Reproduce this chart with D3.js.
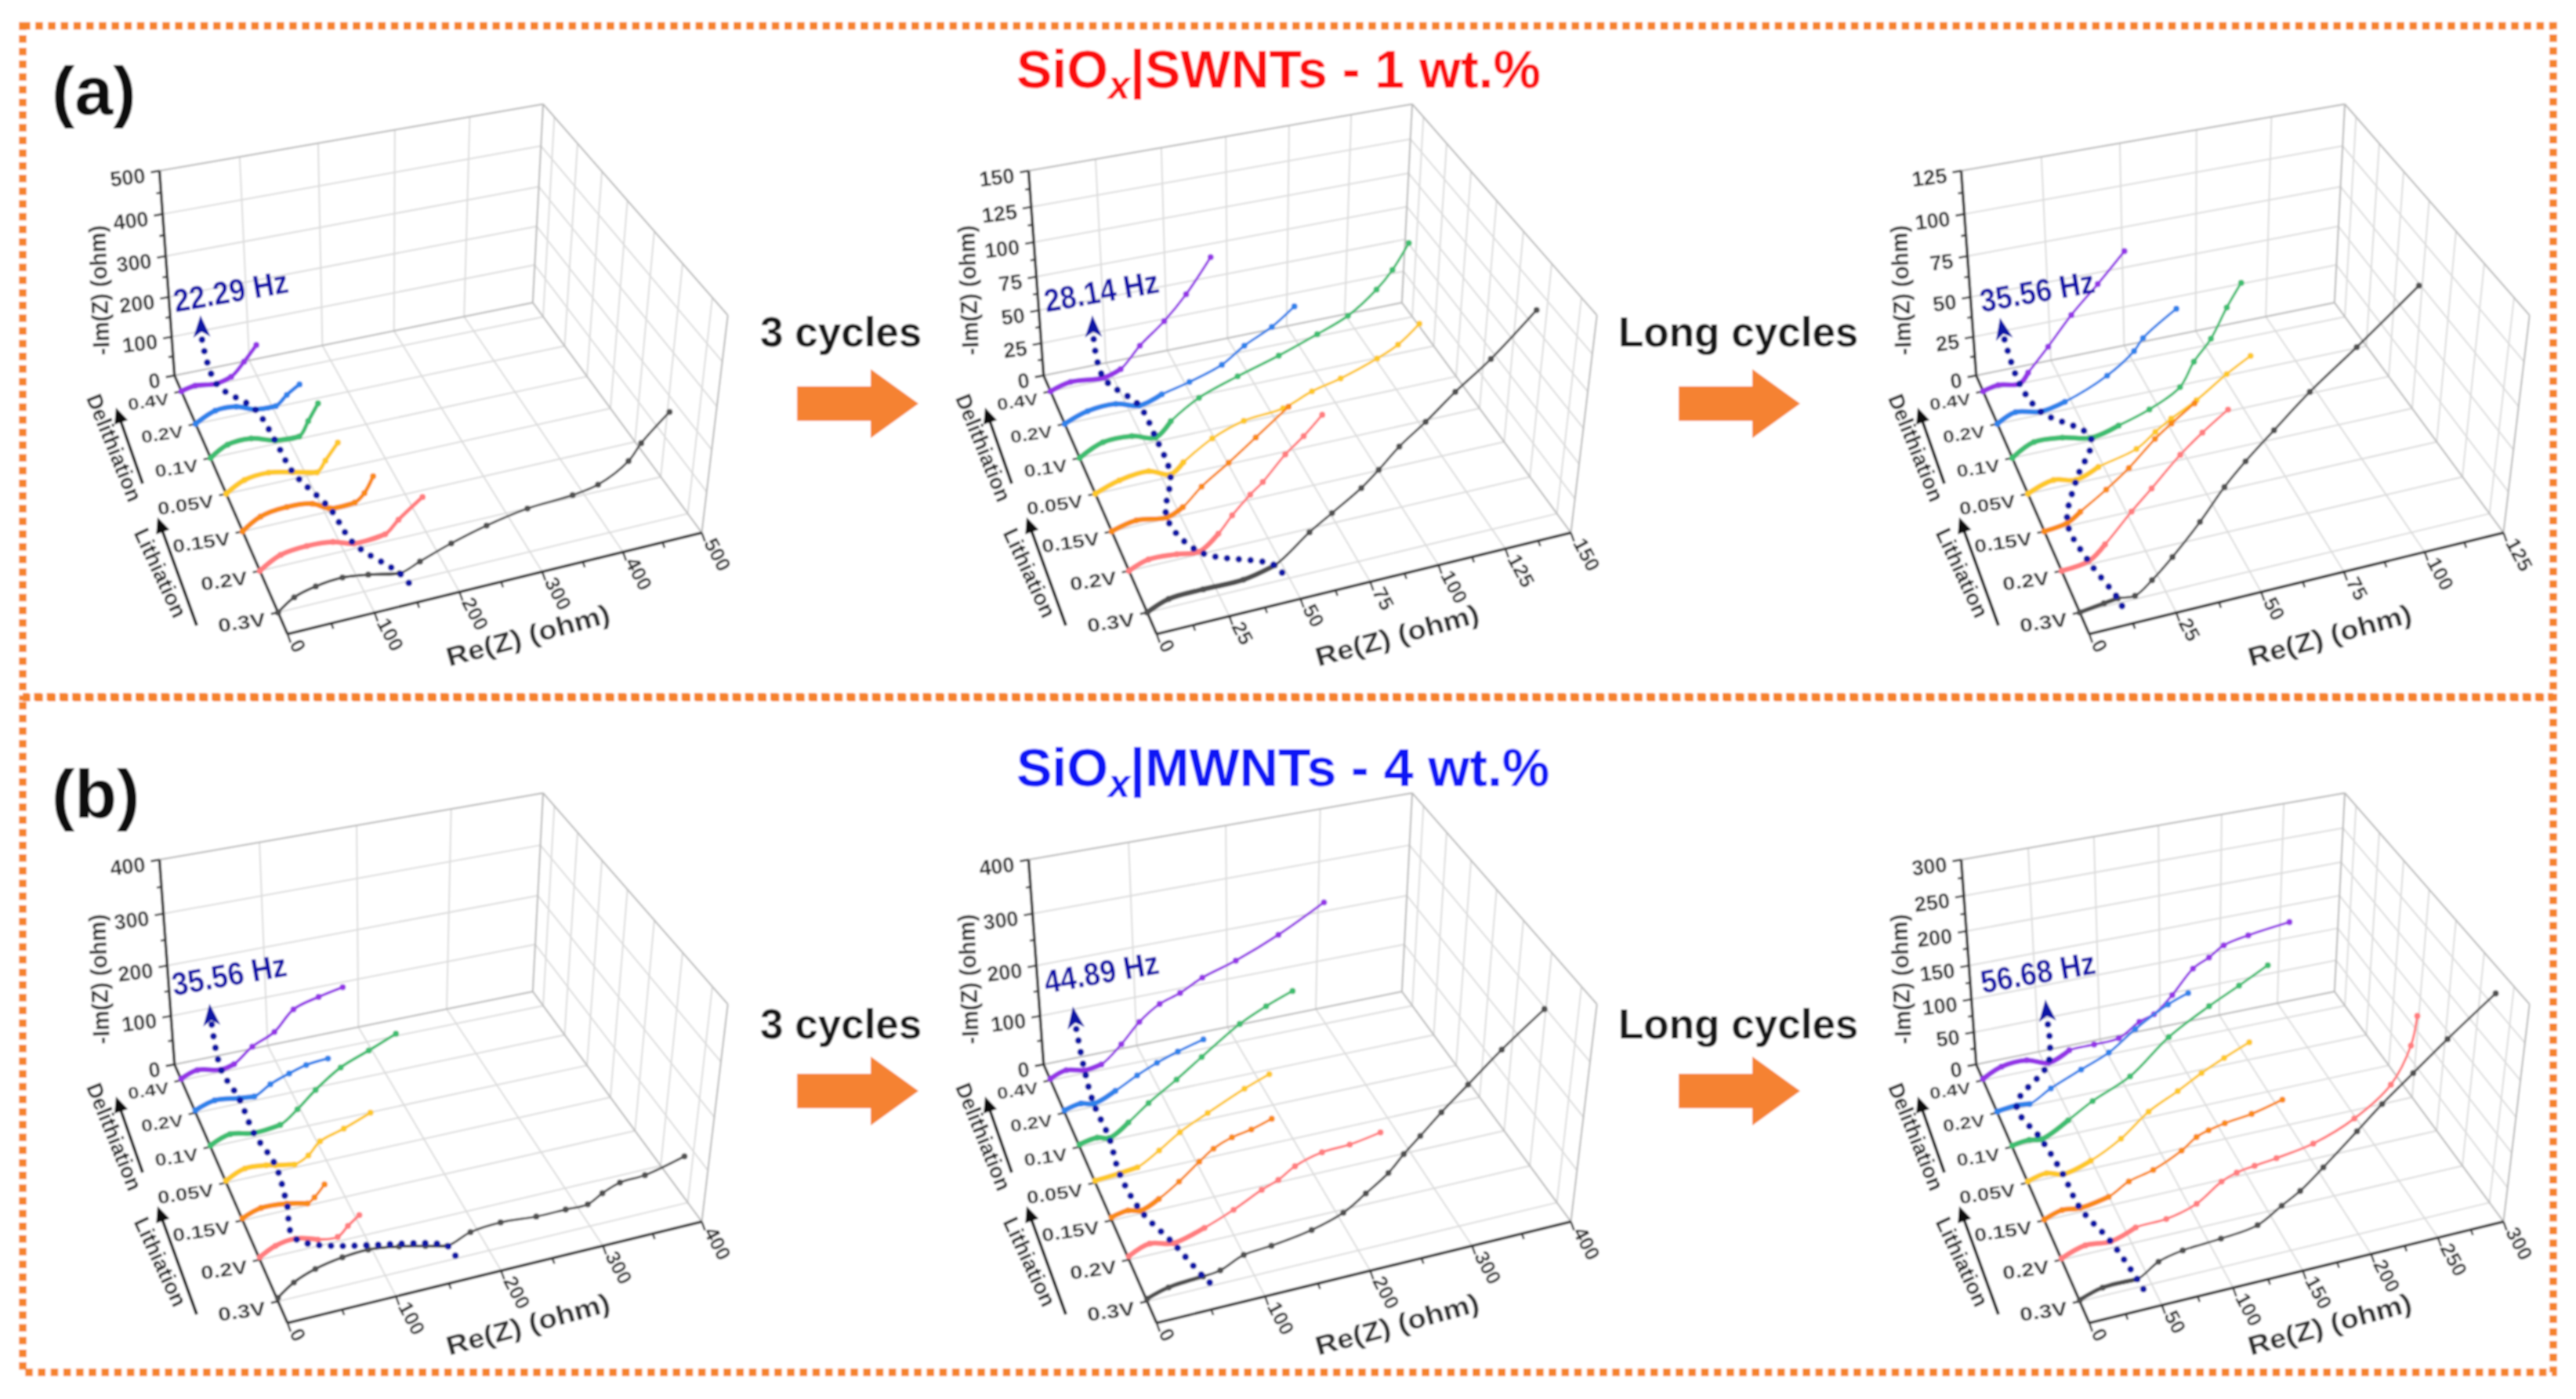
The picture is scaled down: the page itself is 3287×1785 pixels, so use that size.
<!DOCTYPE html>
<html><head><meta charset="utf-8"><style>html,body{margin:0;background:#fff}svg{display:block}text{font-family:"Liberation Sans",Arial,sans-serif}</style>
<script src="https://cdn.jsdelivr.net/npm/d3@7"></script></head><body><svg id="c" width="3287" height="1785"></svg>
<script>
// ---------- data (curve order: 0.3V front ... 0.4V back) ----------
const depthLabels=['0.3V','0.2V','0.15V','0.05V','0.1V','0.2V','0.4V'];
const seriesColors=['#4f4f4f','#ff7d7f','#f98a14','#fdc828','#3cbd70','#2f82ea','#9434e6'];
const a1Re=[[0,19,44,75,105,142,166,203,245,294,349,380,416,430,462],[0,25,56,87,112,150,166,195],[0,22,54,85,106,137,149,160],[0,23,53,83,113,124,140],[0,22,52,82,113,125,138],[0,26,53,77,104,119,136],[0,18,46,66,84,101]];
const a1Im=[[0,27,41,47,39,24,41,67,90,108,115,126,166,202,261],[0,27,34,29,13,18,46,88],[0,26,35,29,8,8,26,63],[0,24,29,17,3,28,66],[0,24,27,9,6,40,79],[0,23,22,5,2,25,45],[0,7,1,11,43,79]];
const a1Mark=[5,4,4,3,3,3,2], a1Top=[[31,120],[31,181]], a1Tail=[157,-17];
const a2Re=[[0,7.5,19.5,33.6,44.7,56.9,64.8,75,81,88,97,107,119,134],[0,7,17,25,32,37,43.5,48,56,62.5,69],[0,9,20,26,33,43,53,65],[0,9,20,28,33,44,56,71,82,93,107,115,123],[0,9,20,29,35,46,61,77,92,104,115,121,127],[0,9,20,29,38,49,62,71,82,91],[0,8,21,28,36,46,55,65]];
const a2Im=[[0,6,7,7,12,30,40,53,63,76,89,105,122,148],[0,5,4,2,12,23,35,42,58,68,80],[0,4,1,6,18,31,45,62],[0,6,8,2,9,22,30,33,41,46,55,62,74],[0,8,8,3,13,26,36,45,55,64,79,91,108],[0,6,7,2,7,12,20,31,41,53],[0,4,2,6,21,36,53,77]];
const a2Mark=[4,3,2,3,3,3,2], a2Top=[[18,33],[18,51]], a2Tail=[49,-1];
const a3Re=[[0,7,11,16,21,27,35,42,48,56,66,79,96],[0,8,13,21,27,35.5,42,49.5],[0,7,11,19,26,34,39,46],[0,8,15,22,34,40,45,53,62.5,70],[0,7,16,25,34,44,54,58.5,64,69,73.5],[0,6,14,22,36,45,48,59],[0,5,12,15,22,30,39,48]];
const a3Im=[[0,2,3,2,9,20,37,54,66,80,97,116,142],[0,2,10,26,37,53,63,73],[0,2,7,17,27,41,48,57],[0,5,2,7,13,21,27,35,47,55],[0,7,6,2,6,12,22,36,48,65,78],[0,5,2,5,16,28,35,49],[0,2,0,6,20,37,53,70]];
const a3Mark=[2,1,1,2,3,2,2], a3Top=[[8,30],[7,44]], a3Tail=[12.5,-4];
const b1Re=[[0,15,35,60,84,113,138,159,181,210,245,274,296,310,327,352,391],[0,15,34,55,74,84,95],[0,18,43,63,70,80],[0,19,40,49,68,82,94,118,145],[0,20,44,71,89,108,134,163,191],[0,20,45,61,78,98,116,139],[0,17,42,56,76,100,121,148,174]];
const b1Im=[[7,29,45,55,58,50,39,29,45,50,45,45,45,60,73,76,95],[5,20,25,13,9,26,42],[4,16,13,4,13,34],[4,20,17,13,6,18,41,56,76],[3,17,9,14,38,69,103,125,147],[5,17,11,8,26,40,50,54],[3,14,5,11,39,60,98,113,123]];
const b1Mark=[7,2,2,3,2,2,2], b1Top=[[35,100],[34,142]], b1Tail=[167,6];
const b2Re=[[0,20,52,68,90,116,154,184,205,226,240,255,274,298,328,366],[0,20,42,72,100,127,143,159,185,212,242],[0,16,28,46,66,86,100,118,137,157],[0,24,42,64,85,113,150,175],[0,18,30,50,71,100,126,165,192,219],[0,17,30,53,76,97,119,146],[0,17,36,54,76,96,118,140,164,200,246,295]];
const b2Im=[[5,17,22,26,45,50,62,81,108,137,166,193,228,268,318,374],[7,22,12,28,50,76,88,107,122,125,135],[6,12,6,21,46,76,95,109,116,128],[4,8,12,36,63,89,121,139],[5,11,5,28,58,93,127,176,200,219],[5,12,6,23,45,62,76,90],[3,14,6,11,44,82,110,124,146,167,202,249]];
const b2Mark=[2,2,2,1,2,2,2], b2Top=[[30,93],[28,139]], b2Tail=[62,-2];
const b3Re=[[0,16,40,55,72,99,125,142,155,171,194,211,232,255,287],[0,17,35,53,75,97,115,126,139,155,182,212,238,251,254],[0,13,26,47,62,80,101,112,121,133,153,176],[0,14,26,47,70,91,113,131,148,167],[0,13,22,43,62,91,121,152,175,197],[0,15,25,42,66,88,109,135,151],[0,15,35,52,69,89,109,126,138,153,170,183,195,215,249]];
const b3Im=[[2,12,12,30,38,42,49,69,84,110,150,180,213,249,296],[2,13,10,22,24,36,60,68,72,76,85,108,145,194,233],[1,9,6,13,29,38,57,72,78,83,88,99],[2,8,1,12,35,66,87,106,121,136],[2,5,2,22,43,68,114,147,168,189],[2,5,3,20,39,56,83,110,121],[2,15,17,6,19,20,22,41,48,72,106,118,132,140,148]];
const b3Mark=[2,2,2,2,2,1,3], b3Top=[[53,65],[52,103]], b3Tail=[45,-8];
const reTicks={a1:[0,100,200,300,400,500],a2:[0,25,50,75,100,125,150],a3:[0,25,50,75,100,125],b1:[0,100,200,300,400],b2:[0,100,200,300,400],b3:[0,50,100,150,200,250,300]};
const imTicks=reTicks;
const freqLabels=['22.29 Hz','28.14 Hz','35.56 Hz','35.56 Hz','44.89 Hz','56.68 Hz'];

// ---------- layout ----------
const panels=[
 {id:'a1',re:a1Re,im:a1Im,mark:a1Mark,top:a1Top,tail:a1Tail,dx:0,dy:0,lab:[295,375],tailW:5,blackW:3.4},
 {id:'a2',re:a2Re,im:a2Im,mark:a2Mark,top:a2Top,tail:a2Tail,dx:1109,dy:0,lab:[297,375],tailW:3.2,blackW:6.5},
 {id:'a3',re:a3Re,im:a3Im,mark:a3Mark,top:a3Top,tail:a3Tail,dx:2299,dy:0,lab:[301,375],tailW:3.2,blackW:5.5},
 {id:'b1',re:b1Re,im:b1Im,mark:b1Mark,top:b1Top,tail:b1Tail,dx:0,dy:879,lab:[293,368],tailW:3.6,blackW:3.4},
 {id:'b2',re:b2Re,im:b2Im,mark:b2Mark,top:b2Top,tail:b2Tail,dx:1109,dy:879,lab:[297,365],tailW:3.2,blackW:5.5},
 {id:'b3',re:b3Re,im:b3Im,mark:b3Mark,top:b3Top,tail:b3Tail,dx:2299,dy:879,lab:[302,365],tailW:3.2,blackW:5.5}];
// visible cube corners on screen: [u,v,w] -> [X,Y], fitted to one projective camera
const cube=[[0,0,0,367,809],[1,0,0,896,680],[0,1,0,223,479],[1,1,0,679,386],[0,1,1,203,218],[1,1,1,694,133],[1,0,1,928,402]];
function fitCamera(pts){
  const rows=[],rhs=[];
  pts.forEach(([u,v,w,X,Y])=>{
    rows.push([u,v,w,1,0,0,0,0,-X*u,-X*v,-X*w]);rhs.push(X);
    rows.push([0,0,0,0,u,v,w,1,-Y*u,-Y*v,-Y*w]);rhs.push(Y);});
  const n=11,M=d3.range(n).map(i=>d3.range(n+1).map(j=>j<n?d3.sum(rows,(r)=>r[i]*r[j]):d3.sum(rows,(r,k)=>r[i]*rhs[k])));
  for(let i=0;i<n;i++){let p=i;for(let r=i+1;r<n;r++)if(Math.abs(M[r][i])>Math.abs(M[p][i]))p=r;[M[i],M[p]]=[M[p],M[i]];
    for(let r=0;r<n;r++)if(r!==i){const f=M[r][i]/M[i][i];for(let c=i;c<=n;c++)M[r][c]-=f*M[i][c];}}
  return M.map((r,i)=>r[n]/r[i]);
}
const cam=fitCamera(cube);
function project(u,v,w){const d=cam[8]*u+cam[9]*v+cam[10]*w+1;
  return [(cam[0]*u+cam[1]*v+cam[2]*w+cam[3])/d,(cam[4]*u+cam[5]*v+cam[6]*w+cam[7])/d];}

const svg=d3.select('#c');
const defs=svg.append('defs');
defs.append('filter').attr('id','soft').attr('x','-2%').attr('y','-2%').attr('width','104%').attr('height','104%').append('feGaussianBlur').attr('stdDeviation',1.3);
const root=svg.append('g').attr('filter','url(#soft)');
root.append('rect').attr('width',3287).attr('height',1785).attr('fill','#fff');

// dotted frames
[[29,33,3229,856],[29,890,3229,861]].forEach(([x,y,w,h])=>root.append('rect').attr('x',x).attr('y',y).attr('width',w).attr('height',h)
  .attr('fill','none').attr('stroke','#f5822a').attr('stroke-width',9.5).attr('stroke-dasharray','9.5 6.7'));

// titles
function title(y,txt,col,x0){const t=root.append('text').attr('x',x0).attr('y',y).attr('fill',col).attr('font-size',68).attr('font-weight',700);
  t.append('tspan').text('SiO');t.append('tspan').attr('dy',14).attr('font-size',50).attr('font-style','italic').text('x');t.append('tspan').attr('dy',-14).text(txt);}
title(112,'|SWNTs - 1 wt.%','#fa0a0a',1297);title(1003,'|MWNTs - 4 wt.%','#0a14f5',1297);
root.append('text').attr('x',66).attr('y',146).attr('font-size',88).attr('font-weight',700).attr('fill','#111').text('(a)');
root.append('text').attr('x',66).attr('y',1043).attr('font-size',88).attr('font-weight',700).attr('fill','#111').text('(b)');

// between-plot captions and arrows
[[0,0,'3 cycles',970,1017],[0,0,'Long cycles',2065,2142],[883,877,'3 cycles',970,1017],[883,877,'Long cycles',2065,2142]].forEach(([dy,da,t,tx,ax])=>{
  root.append('text').attr('x',tx).attr('y',442+dy).attr('font-size',53).attr('font-weight',700).attr('fill','#141414').text(t);
  const a=d3.path();const y=515+da;a.moveTo(ax,y-22);a.lineTo(ax+94,y-22);a.lineTo(ax+94,y-44);a.lineTo(ax+155,y);a.lineTo(ax+94,y+44);a.lineTo(ax+94,y+22);a.lineTo(ax,y+22);a.closePath();
  root.append('path').attr('d',a.toString()).attr('fill','#f58233');
});

const line=d3.line().x(d=>d[0]).y(d=>d[1]).curve(d3.curveCatmullRom.alpha(0.5));
const depth=d3.scaleLinear().domain([-0.5,6.5]).range([0,1]);

panels.forEach((p,pi)=>{
  const R=reTicks[p.id],I=imTicks[p.id],reMax=d3.max(R),imMax=d3.max(I);
  const xS=d3.scaleLinear().domain([0,reMax]).range([0,1]);
  const zS=d3.scaleLinear().domain([0,imMax]).range([0,1]);
  const P=(re,k,im)=>project(xS(re),depth(k),zS(im));
  const g=root.append('g').attr('transform',`translate(${p.dx},${p.dy})`);
  const seg=(a,b,col,w)=>g.append('line').attr('x1',a[0]).attr('y1',a[1]).attr('x2',b[0]).attr('y2',b[1]).attr('stroke',col).attr('stroke-width',w);
  // grid
  const gc='#dcdcdc';
  R.slice(1,-1).forEach(r=>{seg(P(r,-0.5,0),P(r,6.5,0),gc,2);seg(P(r,6.5,0),P(r,6.5,imMax),gc,2);});
  I.slice(1,-1).forEach(i=>{seg(P(0,6.5,i),P(reMax,6.5,i),gc,2);seg(P(reMax,6.5,i),P(reMax,-0.5,i),gc,2);});
  d3.range(0,7).forEach(k=>{seg(P(0,k,0),P(reMax,k,0),gc,2);seg(P(reMax,k,0),P(reMax,k,imMax),gc,2);});
  const ec='#bdbdbd';
  [[[0,6.5,imMax],[reMax,6.5,imMax]],[[reMax,6.5,imMax],[reMax,-0.5,imMax]],[[reMax,-0.5,imMax],[reMax,-0.5,0]],[[reMax,-0.5,0],[reMax,6.5,0]],[[reMax,6.5,0],[reMax,6.5,imMax]],[[0,6.5,0],[reMax,6.5,0]]]
    .forEach(([a,b])=>seg(P(...a),P(...b),ec,2.2));
  // axes
  const ac='#333';
  seg(P(0,-0.5,0),P(reMax,-0.5,0),ac,3.6);seg(P(0,-0.5,0),P(0,6.5,0),ac,3.6);seg(P(0,6.5,0),P(0,6.5,imMax),ac,3.6);
  const step=R[1]-R[0];
  d3.range(0,reMax+step/4,step/2).forEach(r=>{const a=P(r,-0.5,0),maj=(Math.round(r/step*2)%2===0);seg(a,[a[0]+(maj?4:2.5),a[1]+(maj?11:7)],ac,2.6);});
  d3.range(0,imMax+step/4,step/2).forEach(i=>{const a=P(0,6.5,i),maj=(Math.round(i/step*2)%2===0);seg(a,[a[0]-(maj?11:6),a[1]+(maj?2:1)],ac,2.6);});
  // tick labels
  R.forEach(r=>{const a=P(r,-0.5,0);g.append('text').attr('transform',`translate(${a[0]+2},${a[1]+13}) rotate(62)`).attr('font-size',26).attr('font-weight',700).attr('fill','#2e2e2e').text(r);});
  I.forEach(i=>{const a=P(0,6.5,i);g.append('text').attr('transform',`translate(${a[0]-17},${a[1]+15}) rotate(-7)`).attr('text-anchor','end').attr('font-size',27).attr('font-weight',700).attr('fill','#2e2e2e').text(i);});
  depthLabels.forEach((t,k)=>{const a=P(0,k,0);const fs=21+(6-k)*.55;
    seg(a,[a[0]-9,a[1]+2],ac,2.6);
    g.append('text').attr('transform',`translate(${a[0]-15},${a[1]+17}) rotate(-8) scale(1.22,1)`).attr('text-anchor','end').attr('font-size',fs).attr('font-weight',700).attr('fill','#2e2e2e').text(t);});
  // axis titles
  g.append('text').attr('transform','translate(677,822) rotate(-15.4)').attr('text-anchor','middle').attr('font-size',34).attr('font-weight',700).attr('fill','#2e2e2e').attr('textLength',215).attr('lengthAdjust','spacingAndGlyphs').text('Re(Z) (ohm)');
  g.append('text').attr('transform','translate(137,370) rotate(-92)').attr('text-anchor','middle').attr('font-size',30).attr('font-weight',700).attr('fill','#2e2e2e').attr('textLength',166).attr('lengthAdjust','spacingAndGlyphs').text('-Im(Z) (ohm)');
  g.append('text').attr('transform','translate(137,575) rotate(68)').attr('text-anchor','middle').attr('font-size',28).attr('font-weight',700).attr('fill','#222').attr('textLength',145).attr('lengthAdjust','spacingAndGlyphs').text('Delithiation');
  g.append('text').attr('transform','translate(196,735) rotate(65)').attr('text-anchor','middle').attr('font-size',28).attr('font-weight',700).attr('fill','#222').attr('textLength',122).attr('lengthAdjust','spacingAndGlyphs').text('Lithiation');
  [[[182,617],[148,520]],[[251,798],[201,660]]].forEach(([a,b])=>{seg(a,[b[0]+(a[0]-b[0])*.1,b[1]+(a[1]-b[1])*.1],'#111',3.8);
    const ang=Math.atan2(b[1]-a[1],b[0]-a[0])*180/Math.PI+90;
    g.append('path').attr('d','M0,0L9,20L-9,20Z').attr('transform',`translate(${b[0]},${b[1]}) rotate(${ang})`).attr('fill','#111');});
  // curves, back to front
  d3.range(6,-1,-1).forEach(k=>{
    const pts=p.re[k].map((r,i)=>P(r,k,p.im[k][i])),col=seriesColors[k],m=p.mark[k];
    const tw=k===0?3:p.tailW, hw=k===0?p.blackW:6.5, end=k===0?m+1:m+2;
    g.append('path').attr('d',line(pts)).attr('fill','none').attr('stroke',col).attr('stroke-width',tw).attr('stroke-linejoin','round');
    g.append('path').attr('d',line(pts.slice(0,end))).attr('fill','none').attr('stroke',col).attr('stroke-width',hw).attr('stroke-linecap','round');
    g.selectAll(null).data(pts).enter().append('circle').attr('cx',d=>d[0]).attr('cy',d=>d[1]).attr('r',3.9).attr('fill',col);
  });
  // equal-frequency dotted trace and arrow
  const trace=[P(p.top[0][0],6,p.top[0][1])];
  d3.range(6,-1,-1).forEach(k=>trace.push(P(p.re[k][p.mark[k]],k,p.im[k][p.mark[k]])));
  trace.push(P(p.tail[0],0,p.tail[1]));
  g.append('path').attr('d',line(trace)).attr('fill','none').attr('stroke','#0a12a5').attr('stroke-width',8.6).attr('stroke-linecap','round').attr('stroke-dasharray','0 15');
  const tip=P(p.top[1][0],6,p.top[1][1]),ang=Math.atan2(tip[1]-trace[0][1],tip[0]-trace[0][0])*180/Math.PI+90;
  g.append('path').attr('d','M0,0L11,28L0,21L-11,28Z').attr('transform',`translate(${tip[0]},${tip[1]}) rotate(${ang})`).attr('fill','#0a12a5');
  g.append('text').attr('transform',`translate(${p.lab[0]},${p.lab[1]}) rotate(-10)`).attr('text-anchor','middle').attr('dominant-baseline','middle').attr('font-size',41).attr('font-weight',700).attr('fill','#1010a8').attr('textLength',148).attr('lengthAdjust','spacingAndGlyphs').text(freqLabels[pi]);
});
</script></body></html>
